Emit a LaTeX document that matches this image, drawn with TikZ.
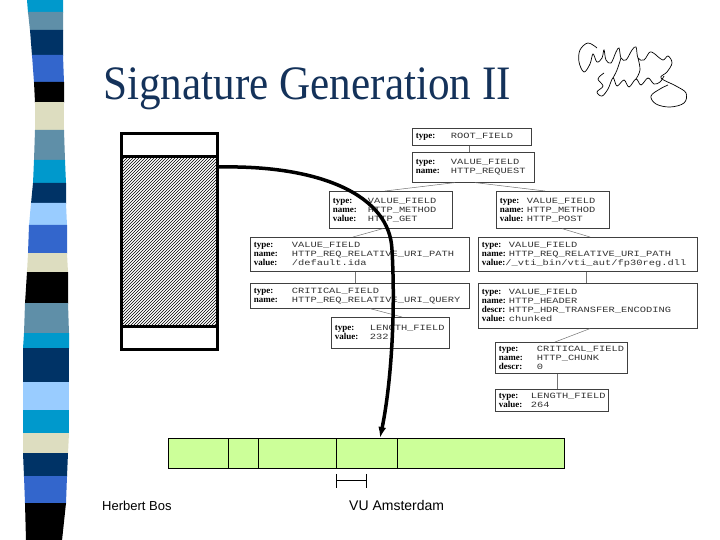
\documentclass[tikz,border=0pt]{standalone}
\usepackage{fontspec}
\setmainfont{Liberation Serif}
\newfontfamily\titlefont[FakeStretch=0.9]{Liberation Serif}
\newfontfamily\footfont{Liberation Sans}
\newfontfamily\valfam[FakeStretch=1.3]{Liberation Mono}
\newfontfamily\labfam{Liberation Serif}
\usetikzlibrary{arrows.meta,patterns}
\definecolor{cy}{HTML}{0099CC}
\definecolor{st}{HTML}{5F8FA8}
\definecolor{nv}{HTML}{003366}
\definecolor{ry}{HTML}{3366CC}
\definecolor{bk}{HTML}{000000}
\definecolor{bg}{HTML}{DDDDC0}
\definecolor{lb}{HTML}{99CCFF}
\definecolor{titlec}{HTML}{14325A}
\definecolor{cellg}{HTML}{CCFF99}
\definecolor{valc}{HTML}{333333}
\newlength\labw
\newcommand\valfont{\valfam\fontsize{8}{9}\selectfont}
\newcommand\labfont{\labfam\bfseries\fontsize{9}{9}\selectfont}
\newcommand\rw[2]{\makebox[\labw][l]{\labfont #1}{\valfont\color{valc}#2}}
\newcommand\tbox[7]{%
  \pgfmathsetmacro\tw{#4-#2-7}%
  \pgfmathsetmacro\th{#5-#3}%
  \node[tbox, text width=\tw pt, minimum height=\th pt] (#1) at (#2,#3) {\setlength\labw{#6pt}#7};}
\tikzset{
  tbox/.style={draw=black!75, line width=0.6pt, fill=white, anchor=north west,
    inner xsep=3.5pt, inner ysep=0pt, align=left, font=\valfont},
  conn/.style={draw=black!55, line width=0.5pt},
  blk/.style={draw=black, line width=3pt, anchor=north west, minimum width=96pt, inner sep=0pt},
  cell/.style={draw=black, line width=0.8pt, fill=cellg, anchor=north west, minimum height=30pt, inner sep=0pt},
  bigarrow/.style={line width=3.5pt, -{Latex[length=11pt,width=8pt]}},
  sig/.style={line width=0.7pt, black},
}
\begin{document}
\begin{tikzpicture}[x=1pt,y=-1pt]
\useasboundingbox (0,0) rectangle (720,540);
% stripes
\foreach \ya/\yb/\la/\lb/\ra/\rb/\c in {
0/12/27/28/63/63/cy, 12/30/28/30/63/63/st, 30/55/30/32/63/63/nv, 55/82/32/34/63/64/ry,
82/102/34/35/64/64/bk, 102/130/35/35/64/64/bg, 130/160/35/34/64/65/st, 160/183/34/33/65/66/cy,
183/203/33/31/66/66/nv, 203/225/31/29/66/67/lb, 225/253/29/28/67/67/ry, 253/272/28/27/67/68/bg,
272/303/27/25/68/68/bk, 303/333/25/24/68/69/st, 333/348/24/23/69/69/cy, 348/382/23/23/69/69/nv,
382/410/23/23/69/69/lb, 410/433/23/23/69/69/cy, 433/453/23/23/69/68/bg, 453/476/23/24/68/67/nv,
476/503/24/25/67/66/ry, 503/540/25/26/66/62/bk}
{\fill[\c] (\la,\ya) -- (\ra,\ya) -- (\rb,\yb+0.6) -- (\lb,\yb+0.6) -- cycle;}
% title
\node[anchor=base west, inner sep=0pt, text=titlec, font=\titlefont\fontsize{48}{50}\selectfont] (title) at (103,100) {Signature Generation II};
% signature
\draw[sig] plot[smooth, tension=0.6] coordinates {(597,48) (588,43) (580,50) (579,62) (584,72) (590,64) (593,54) (597,62) (602,58) (604,50) (606,60) (611,63) (616,52) (619,48) (621,58) (626,60) (632,50) (636,47) (638,58) (644,60) (650,52) (656,55)};
\draw[sig] plot[smooth, tension=0.6] coordinates {(656,55) (663,60) (668,56) (672,63) (667,72) (661,78) (676,86) (686,93) (684,103) (670,107) (656,104) (651,96) (660,89) (668,85)};
\draw[sig] plot[smooth, tension=0.6] coordinates {(604,73) (598,79) (603,86) (597,92) (602,96) (608,89) (613,78) (617,86) (624,80) (629,87) (636,79) (641,85) (648,78) (654,84) (660,82) (664,76)};
\draw[sig] plot[smooth, tension=0.6] coordinates {(621,58) (617,70) (613,78)};
\draw[sig] plot[smooth, tension=0.6] coordinates {(638,58) (640,70) (636,79)};
% tree boxes
\tbox{b1}{412}{128}{531}{145}{35}{\rw{type:}{ROOT\_FIELD}}
\tbox{b2}{412}{152}{534}{182}{35}{\rw{type:}{VALUE\_FIELD}\\\rw{name:}{HTTP\_REQUEST}}
\tbox{b3}{329}{191}{452}{228}{35}{\rw{type:}{VALUE\_FIELD}\\\rw{name:}{HTTP\_METHOD}\\\rw{value:}{HTTP\_GET}}
\tbox{b4}{250}{237}{469}{271}{38}{\rw{type:}{VALUE\_FIELD}\\\rw{name:}{HTTP\_REQ\_RELATIVE\_URI\_PATH}\\\rw{value:}{/default.ida}}
\tbox{b5}{250}{283}{469}{308}{38}{\rw{type:}{CRITICAL\_FIELD}\\\rw{name:}{HTTP\_REQ\_RELATIVE\_URI\_QUERY}}
\tbox{b6}{331}{317}{449}{348}{35}{\rw{type:}{LENGTH\_FIELD}\\\rw{value:}{232}}
\tbox{b7}{496}{191}{609}{228}{27}{\rw{type:}{VALUE\_FIELD}\\\rw{name:}{HTTP\_METHOD}\\\rw{value:}{HTTP\_POST}}
\tbox{b8}{478}{237}{697}{271}{27}{\rw{type:}{VALUE\_FIELD}\\\rw{name:}{HTTP\_REQ\_RELATIVE\_URI\_PATH}\\{\labfont value:}{\valfont\color{valc}/\_vti\_bin/vti\_aut/fp30reg.dll}}
\tbox{b9}{478}{283}{697}{328}{27}{\rw{type:}{VALUE\_FIELD}\\\rw{name:}{HTTP\_HEADER}\\\rw{descr:}{HTTP\_HDR\_TRANSFER\_ENCODING}\\\rw{value:}{chunked}}
\tbox{b10}{495}{342}{627}{373}{38}{\rw{type:}{CRITICAL\_FIELD}\\\rw{name:}{HTTP\_CHUNK}\\\rw{descr:}{0}}
\tbox{b11}{495}{389}{608}{411}{32}{\rw{type:}{LENGTH\_FIELD}\\\rw{value:}{264}}
% tree connectors
\draw[conn] ([xshift=57pt]b1.south west) -- ([xshift=57pt]b2.north west);
\draw[conn] ([xshift=43pt]b2.south west) -- ([xshift=56pt]b3.north west);
\draw[conn] ([xshift=63pt]b2.south west) -- ([xshift=49pt]b7.north west);
\draw[conn] ([xshift=54pt]b3.south west) -- ([xshift=103pt]b4.north west);
\draw[conn] ([xshift=105pt]b4.south west) -- ([xshift=105pt]b5.north west);
\draw[conn] ([xshift=120pt]b5.south west) -- ([xshift=71pt]b6.north west);
\draw[conn] ([xshift=66pt]b7.south west) -- ([xshift=112pt]b8.north west);
\draw[conn] ([xshift=108pt]b8.south west) -- ([xshift=108pt]b9.north west);
\draw[conn] ([xshift=112pt]b9.south west) -- ([xshift=60pt]b10.north west);
\draw[conn] ([xshift=62pt]b10.south west) -- ([xshift=62pt]b11.north west);
% hatched block
\node[blk, minimum height=170pt, pattern=north east lines] (mid) at (120,155) {};
\node[blk, minimum height=23pt] (top) at (120,132) {};
\node[blk, minimum height=23pt] (bot) at (120,325) {};
% green bar
\node[cell, minimum width=60pt] (c1) at (168,438) {};
\node[cell, minimum width=30pt] (c2) at (228,438) {};
\node[cell, minimum width=78pt] (c3) at (258,438) {};
\node[cell, minimum width=61pt] (c4) at (336,438) {};
\node[cell, minimum width=167pt] (c5) at (397,438) {};
% big arrow
\draw[bigarrow] ([yshift=-12pt]mid.north east) .. controls (320,165) and (390,195) .. (392,250) .. controls (396,320) and (390,390) .. ([xshift=44pt]c4.north west);
% bracket
\coordinate (brs) at ([yshift=-12pt]c4.south west);
\coordinate (bre) at ([xshift=30pt,yshift=-12pt]c4.south west);
\draw[line width=0.8pt] (brs) -- (bre);
\draw[line width=0.8pt] ([yshift=7pt]brs) -- ([yshift=-7pt]brs);
\draw[line width=0.8pt] ([yshift=7pt]bre) -- ([yshift=-7pt]bre);
% footer
\node[anchor=base west, inner sep=0pt, font=\footfont\fontsize{13}{15}\selectfont] (author) at (102,510) {Herbert Bos};
\node[anchor=base west, inner sep=0pt, font=\footfont\fontsize{14}{16}\selectfont] (inst) at (349,510) {VU Amsterdam};
\end{tikzpicture}
\end{document}
